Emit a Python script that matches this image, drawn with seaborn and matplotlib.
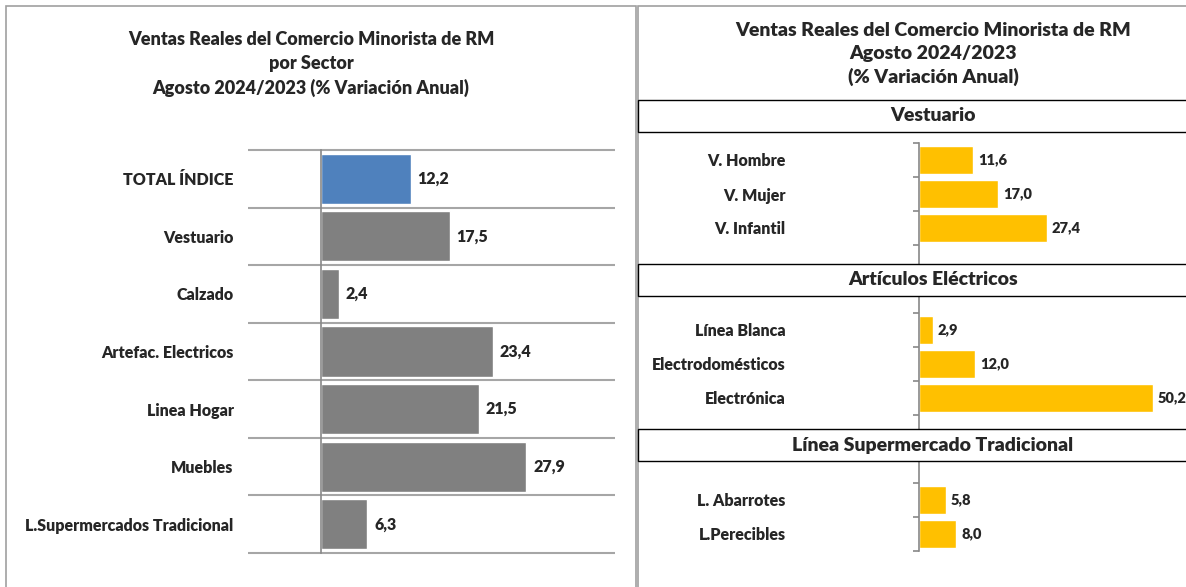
import matplotlib
matplotlib.use('Agg')
import matplotlib.pyplot as plt
import seaborn as sns
from matplotlib.patches import Rectangle

# datos panel izquierdo
sectores = ['TOTAL ÍNDICE', 'Vestuario', 'Calzado', 'Artefac. Electricos',
            'Linea Hogar', 'Muebles', 'L.Supermercados Tradicional']
var_sectores = [12.2, 17.5, 2.4, 23.4, 21.5, 27.9, 6.3]
colores_sectores = ['#4f81bd', '#808080', '#808080', '#808080', '#808080', '#808080', '#808080']

# datos panel derecho (con huecos para los encabezados de grupo)
subsectores = ['V. Hombre', 'V. Mujer', 'V. Infantil',
               'Línea Blanca', 'Electrodomésticos', 'Electrónica',
               'L. Abarrotes', 'L.Perecibles']
var_subsectores = [11.6, 17.0, 27.4, 2.9, 12.0, 50.2, 5.8, 8.0]
orden_derecho = ['V. Hombre', 'V. Mujer', 'V. Infantil', '_g1', '_g2',
                 'Línea Blanca', 'Electrodomésticos', 'Electrónica', '_g3', '_g4',
                 'L. Abarrotes', 'L.Perecibles']
grupos = ['Vestuario', 'Artículos Eléctricos', 'Línea Supermercado Tradicional']

sns.set_style('white')
plt.rcParams['font.family'] = ['Lato', 'DejaVu Sans']
PESO = 'heavy'

W, H = 1186, 587
fig = plt.figure(figsize=(W / 100, H / 100), dpi=100)


def fbox(x0, y0, x1, y1):
    # caja en pixeles (origen arriba a la izquierda) -> coords de figura
    return [x0 / W, 1 - y1 / H, (x1 - x0) / W, (y1 - y0) / H]


def fig_rect(x0, y0, x1, y1, ec, lw, z=5):
    l, b, w, h = fbox(x0, y0, x1, y1)
    fig.patches.append(Rectangle((l, b), w, h, transform=fig.transFigure,
                                 facecolor='white', edgecolor=ec, linewidth=lw, zorder=z))


# bordes de los paneles
fig_rect(6, 6, 636, 600, '#a0a0a0', 1.2, z=-1)
fig_rect(638, 6, 1200, 600, '#a0a0a0', 1.2, z=-1)

# ---- panel izquierdo ----
ax1 = fig.add_axes(fbox(321, 150, 615, 553))
sns.barplot(x=var_sectores, y=sectores, hue=sectores, palette=colores_sectores,
            order=sectores, orient='h', width=0.87, legend=False, ax=ax1, saturation=1)
ax1.set_xlim(0, 40)
ax1.set_ylim(len(sectores) - 0.5, -0.5)
for s in ['top', 'right', 'bottom']:
    ax1.spines[s].set_visible(False)
ax1.spines['left'].set_color('#888888')
ax1.spines['left'].set_linewidth(1.2)
ax1.set_xticks([])
ax1.set_xlabel('')
ax1.set_ylabel('')
ax1.tick_params(axis='y', length=0, pad=63)
for lab in ax1.get_yticklabels():
    lab.set_fontsize(11.5)
    lab.set_fontweight(PESO)
limites = [i - 0.5 for i in range(len(sectores) + 1)]
ax1.hlines(limites, -0.25, 1, transform=ax1.get_yaxis_transform(),
           color='#a6a6a6', linewidth=1.5, clip_on=False, zorder=0)
for i, v in enumerate(var_sectores):
    ax1.annotate(f'{v:.1f}'.replace('.', ','), (v, i), xytext=(5, 0),
                 textcoords='offset points', va='center', ha='left',
                 fontsize=11.5, fontweight=PESO)

fig.text(311 / W, 1 - 64 / H, 'Ventas Reales del Comercio Minorista de RM\npor Sector\nAgosto 2024/2023 (% Variación Anual)',
         ha='center', va='center', fontsize=13, fontweight=PESO, linespacing=1.45)

# ---- panel derecho ----
ax2 = fig.add_axes(fbox(919, 143, 1186, 551))
sns.barplot(x=var_subsectores, y=subsectores, order=orden_derecho, orient='h',
            color='#ffc000', width=0.82, ax=ax2, saturation=1)
ax2.set_xlim(0, 57.3)
ax2.set_ylim(len(orden_derecho) - 0.5, -0.5)
for s in ['top', 'right', 'bottom']:
    ax2.spines[s].set_visible(False)
ax2.spines['left'].set_color('#888888')
ax2.spines['left'].set_linewidth(1.2)
ax2.set_xticks([])
ax2.set_xlabel('')
ax2.set_ylabel('')
ax2.set_yticks(range(len(orden_derecho)))
ax2.set_yticklabels(['' if c.startswith('_') else c for c in orden_derecho],
                    fontsize=11.5, fontweight=PESO)
ax2.tick_params(axis='y', which='major', length=0, pad=96)
ax2.set_yticks([-0.5, 0.5, 1.5, 2.5, 4.5, 5.5, 6.5, 7.5, 9.5, 10.5, 11.5], minor=True)
ax2.tick_params(axis='y', which='minor', length=4.5, color='#888888', width=1.2, left=True)
for i, v in zip([orden_derecho.index(c) for c in subsectores], var_subsectores):
    ax2.annotate(f'{v:.1f}'.replace('.', ','), (v, i), xytext=(3.5, 0),
                 textcoords='offset points', va='center', ha='left',
                 fontsize=10.5, fontweight=PESO, annotation_clip=False)

fig.text(933 / W, 1 - 54 / H, 'Ventas Reales del Comercio Minorista de RM\nAgosto 2024/2023\n(% Variación Anual)',
         ha='center', va='center', fontsize=14, fontweight=PESO, linespacing=1.4)

cajas = [(100, 132), (264, 296), (429, 461)]
for nombre, (y0, y1) in zip(grupos, cajas):
    fig_rect(638, y0, 1200, y1, 'black', 1.0)
    fig.text(933 / W, 1 - (y0 + y1) / 2 / H, nombre, ha='center', va='center',
             fontsize=14, fontweight=PESO, zorder=6)

plt.savefig('out.png', dpi=100)
plt.close()
